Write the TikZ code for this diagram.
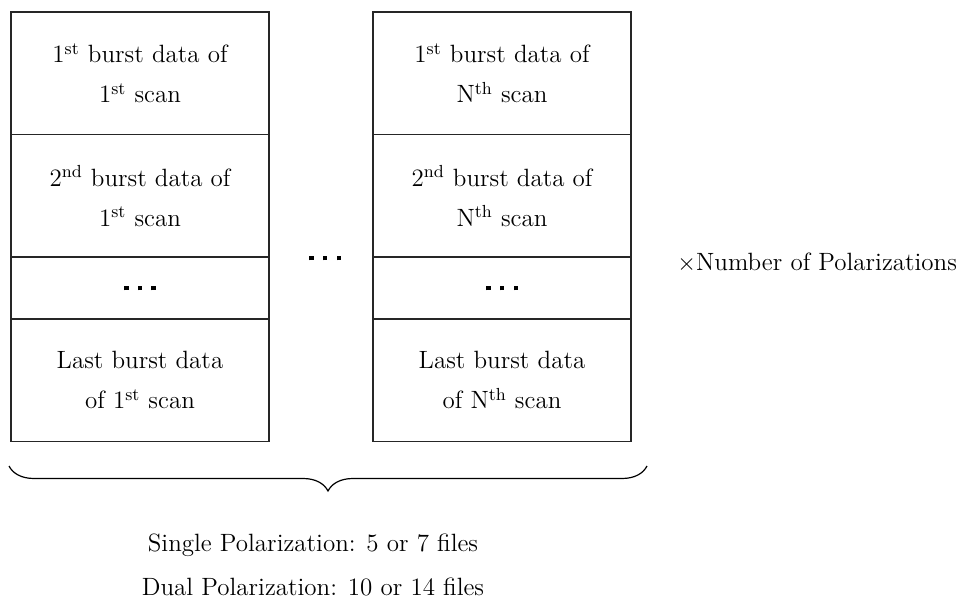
\documentclass[tikz,border=0pt]{standalone}
\usepackage{tikz}
\usetikzlibrary{positioning, decorations.pathreplacing}
\tikzset{
  cellbox/.style={rectangle, draw=black!85, line width=0.7pt, minimum width=129pt, inner sep=0pt, outer sep=0pt, align=center, font=\fontsize{12.5}{20}\selectfont},
  tallcell/.style={cellbox, minimum height=61.25pt},
  dotcell/.style={cellbox, minimum height=31pt},
  dotsmark/.style={inner sep=0pt},
  labeltext/.style={font=\fontsize{12.5}{16}\selectfont},
  bracemark/.style={decorate, decoration={brace, mirror, amplitude=12.5pt, aspect=0.5}, line width=0.6pt}
}
\newcommand{\dotrow}{\rule{2.3pt}{2.3pt}\hspace{4.6pt}\rule{2.3pt}{2.3pt}\hspace{4.6pt}\rule{2.3pt}{2.3pt}}

\begin{document}
\begin{tikzpicture}[x=0.5pt, y=-0.5pt]
  \useasboundingbox (0,0) rectangle (965,599);

  % Burst columns
  \foreach \col/\cx/\scan in {A/140/{1\textsuperscript{st}}, B/502/{N\textsuperscript{th}}} {
    \node[tallcell, below=0pt of {(\cx,12)}] (\col1) {1\textsuperscript{st} burst data of\\\scan\ scan};
    \node[tallcell, below=0pt of \col1] (\col2) {2\textsuperscript{nd} burst data of\\\scan\ scan};
    \node[dotcell, below=0pt of \col2] (\col3) {};
    \node[dotsmark] at (\col3) {\dotrow};
    \node[tallcell, below=0pt of \col3] (\col4) {Last burst data\\of \scan\ scan};
  }

  % Between columns
  \node[dotsmark] (gap) at (325,258) {\dotrow};
  \node[labeltext, anchor=west, inner sep=0pt] (polnote) at (677,263) {$\times$Number of Polarizations};

  % Brace and file counts
  \coordinate (braceL) at (9,466);
  \coordinate (braceR) at (647,466);
  \draw[bracemark] (braceL) -- (braceR);
  \node[labeltext] (single) at (313,545) {Single Polarization: 5 or 7 files};
  \node[labeltext] (dual) at (313,587) {Dual Polarization: 10 or 14 files};
\end{tikzpicture}
\end{document}
